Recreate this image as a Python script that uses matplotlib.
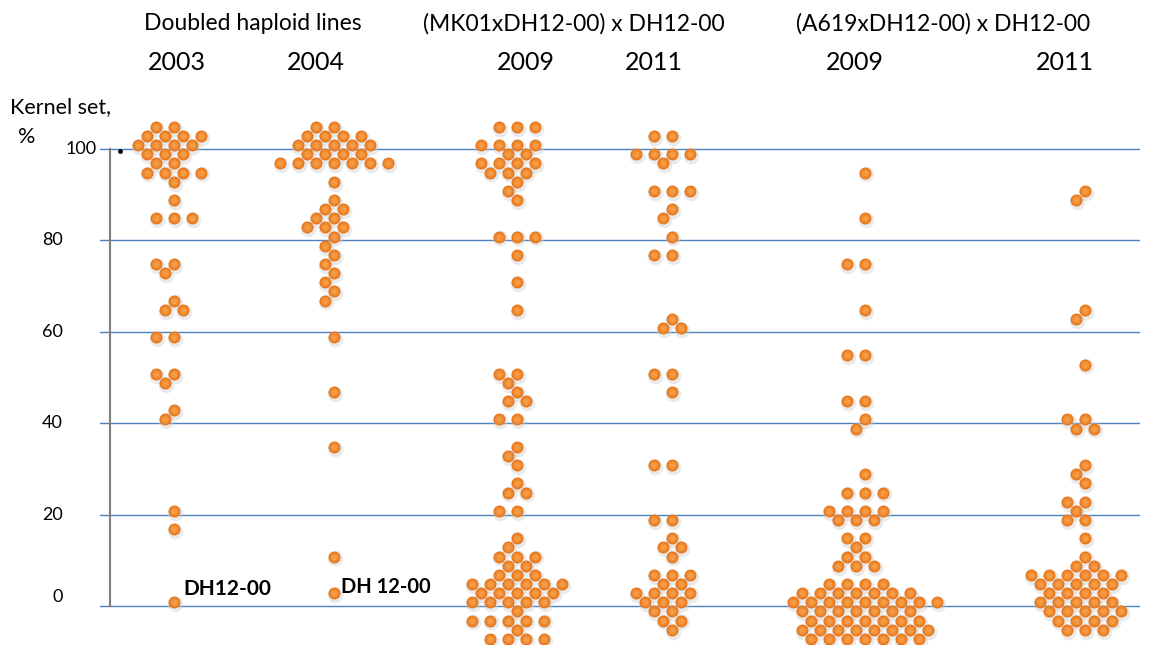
import matplotlib.pyplot as plt
import numpy as np

plt.rcParams['font.family'] = ['Lato', 'DejaVu Sans']

# kernel set, % - one entry per line
dh_2003 = [104.8, 104.8, 102.8, 102.8, 102.8, 102.8, 100.8, 100.8, 100.8, 100.8,
           98.8, 98.8, 98.8, 96.8, 96.8, 94.8, 94.8, 94.8, 94.8, 92.8, 88.8,
           84.8, 84.8, 84.8, 74.8, 74.8, 72.8, 66.8, 64.8, 64.8, 58.8, 58.8,
           50.8, 50.8, 48.8, 42.8, 40.8, 20.8, 16.8, 0.8]
dh_2004 = [104.8, 104.8, 102.8, 102.8, 102.8, 102.8, 100.8, 100.8, 100.8, 100.8, 100.8,
           98.8, 98.8, 98.8, 98.8, 96.8, 96.8, 96.8, 96.8, 96.8, 96.8, 96.8,
           92.8, 88.8, 86.8, 86.8, 84.8, 84.8, 82.8, 82.8, 82.8, 80.8, 78.8,
           76.8, 74.8, 72.8, 70.8, 68.8, 66.8, 58.8, 46.8, 34.8, 10.8, 2.8]
mk_2009 = [104.8, 104.8, 104.8, 100.8, 100.8, 100.8, 100.8, 98.8, 98.8,
           96.8, 96.8, 96.8, 96.8, 94.8, 94.8, 94.8, 92.8, 90.8, 88.8,
           80.8, 80.8, 80.8, 76.8, 70.8, 64.8, 50.8, 50.8, 48.8, 46.8, 44.8, 44.8,
           40.8, 40.8, 34.8, 32.8, 30.8, 26.8, 24.8, 24.8, 20.8, 20.8, 14.8, 12.8,
           10.8, 10.8, 10.8, 8.8, 8.8, 6.8, 6.8, 6.8,
           4.8, 4.8, 4.8, 4.8, 4.8, 4.8, 2.8, 2.8, 2.8, 2.8, 2.8,
           0.8, 0.8, 0.8, 0.8, 0.8, -1.2, -3.2, -3.2, -3.2, -3.2, -3.2,
           -5.2, -7.2, -7.2, -7.2, -7.2]
mk_2011 = [102.8, 102.8, 98.8, 98.8, 98.8, 98.8, 96.8, 90.8, 90.8, 90.8,
           86.8, 84.8, 80.8, 76.8, 76.8, 62.8, 60.8, 60.8, 50.8, 50.8, 46.8,
           30.8, 30.8, 18.8, 18.8, 14.8, 12.8, 12.8, 10.8, 6.8, 6.8, 6.8,
           4.8, 4.8, 2.8, 2.8, 2.8, 2.8, 0.8, 0.8, 0.8, -1.2, -1.2,
           -3.2, -3.2, -5.2]
a619_2009 = [94.8, 84.8, 74.8, 74.8, 64.8, 54.8, 54.8, 44.8, 44.8, 40.8, 38.8,
             28.8, 24.8, 24.8, 24.8, 20.8, 20.8, 20.8, 20.8, 18.8, 18.8, 18.8,
             14.8, 14.8, 12.8, 10.8, 10.8, 8.8, 8.8, 8.8, 4.8, 4.8, 4.8, 4.8,
             2.8, 2.8, 2.8, 2.8, 2.8, 2.8, 2.8,
             0.8, 0.8, 0.8, 0.8, 0.8, 0.8, 0.8, 0.8, 0.8,
             -1.2, -1.2, -1.2, -1.2, -1.2, -1.2, -1.2,
             -3.2, -3.2, -3.2, -3.2, -3.2, -3.2, -3.2,
             -5.2, -5.2, -5.2, -5.2, -5.2, -5.2, -5.2, -5.2,
             -7.2, -7.2, -7.2, -7.2, -7.2, -7.2, -7.2]
a619_2011 = [90.8, 88.8, 64.8, 62.8, 52.8, 40.8, 40.8, 38.8, 38.8, 30.8, 28.8,
             26.8, 22.8, 22.8, 20.8, 18.8, 18.8, 14.8, 10.8, 8.8, 8.8,
             6.8, 6.8, 6.8, 6.8, 6.8, 6.8, 4.8, 4.8, 4.8, 4.8, 4.8,
             2.8, 2.8, 2.8, 2.8, 0.8, 0.8, 0.8, 0.8, 0.8,
             -1.2, -1.2, -1.2, -1.2, -1.2, -3.2, -3.2, -3.2, -3.2,
             -5.2, -5.2, -5.2]

groups = [dh_2003, dh_2004, mk_2009, mk_2011, a619_2009, a619_2011]
years = ["2003", "2004", "2009", "2011", "2009", "2011"]
headers = ["Doubled haploid lines", "(MK01xDH12-00) x DH12-00", "(A619xDH12-00) x DH12-00"]
y_ticks = [0, 20, 40, 60, 80, 100]

W, H = 1151, 645
centers = [174, 334, 517, 672, 865, 1085]
year_x = [177, 316, 526, 654, 855, 1065]
header_x = [253, 574, 943]

fig = plt.figure(figsize=(W / 100, H / 100), dpi=100)
ax = fig.add_axes([100 / W, 0, 1040 / W, 535 / H])
ax.set_xlim(100, 1140)
ax.set_ylim(-8.53, 108.5)
ax.axis("off")


def swarm_x(values, center, diam=12.2, step=9.0):
    # greedy beeswarm in pixel space, half-lane grid
    xy = ax.transData.transform(np.column_stack([np.full(len(values), center), values]))
    ys = xy[:, 1]
    cx = xy[0, 0]
    offsets = [0.0]
    for k in range(1, 40):
        offsets += [-k * step, k * step]
    xs = np.empty(len(values))
    done = []
    for i in np.argsort(-ys, kind="stable"):
        for off in offsets:
            x = cx + off
            if all((x - px) ** 2 + (ys[i] - py) ** 2 >= diam ** 2 for px, py in done):
                break
        xs[i] = x
        done.append((x, ys[i]))
    return ax.transData.inverted().transform(np.column_stack([xs, ys]))[:, 0]


for v in y_ticks:
    ax.axhline(v, color="#4f81bd", lw=1.0, zorder=1)
ax.plot([110, 110], [0, 100], color="#7f7f7f", lw=1.5, zorder=1)
ax.scatter([120], [99.5], s=6, color="black", zorder=2)

for vals, c in zip(groups, centers):
    vals = np.array(vals)
    xs = swarm_x(vals, c)
    ax.scatter(xs + 0.8, vals - 0.4, s=125, color="#cccccc", alpha=0.4, lw=0, zorder=2, clip_on=False)
    ax.scatter(xs, vals, s=74, color="#e8761c", lw=0, zorder=3, clip_on=False)
    ax.scatter(xs, vals, s=44, color="#f08a2e", lw=0, zorder=4, clip_on=False)
    ax.scatter(xs, vals, s=16, color="#f49b48", lw=0, zorder=5, clip_on=False)

# parent line labels
ax.annotate("DH12-00", xy=(centers[0], dh_2003[-1]), xytext=(6.5, 9.5), textcoords="offset points",
            fontsize=15, fontweight="bold", va="center", ha="left")
ax.annotate("DH 12-00", xy=(centers[1], dh_2004[-1]), xytext=(5, 4.5), textcoords="offset points",
            fontsize=14.5, fontweight="bold", va="center", ha="left")

# tick labels
for v in y_ticks:
    xpx = 97 if v == 100 else 63
    yv = v + 2 if v == 0 else v
    ax.text(xpx, yv, str(v), ha="right", va="center", fontsize=13, transform=ax.transData, clip_on=False)

fig.text(10 / W, 1 - 107 / H, "Kernel set,", fontsize=15.5, ha="left", va="center")
fig.text(18 / W, 1 - 137 / H, "%", fontsize=15.5, ha="left", va="center")

for t, x in zip(headers, header_x):
    fig.text(x / W, 1 - 24 / H, t, fontsize=16.5, ha="center", va="center")
for t, x in zip(years, year_x):
    fig.text(x / W, 1 - 63 / H, t, fontsize=18, ha="center", va="center")

fig.savefig("out.png", dpi=100)
